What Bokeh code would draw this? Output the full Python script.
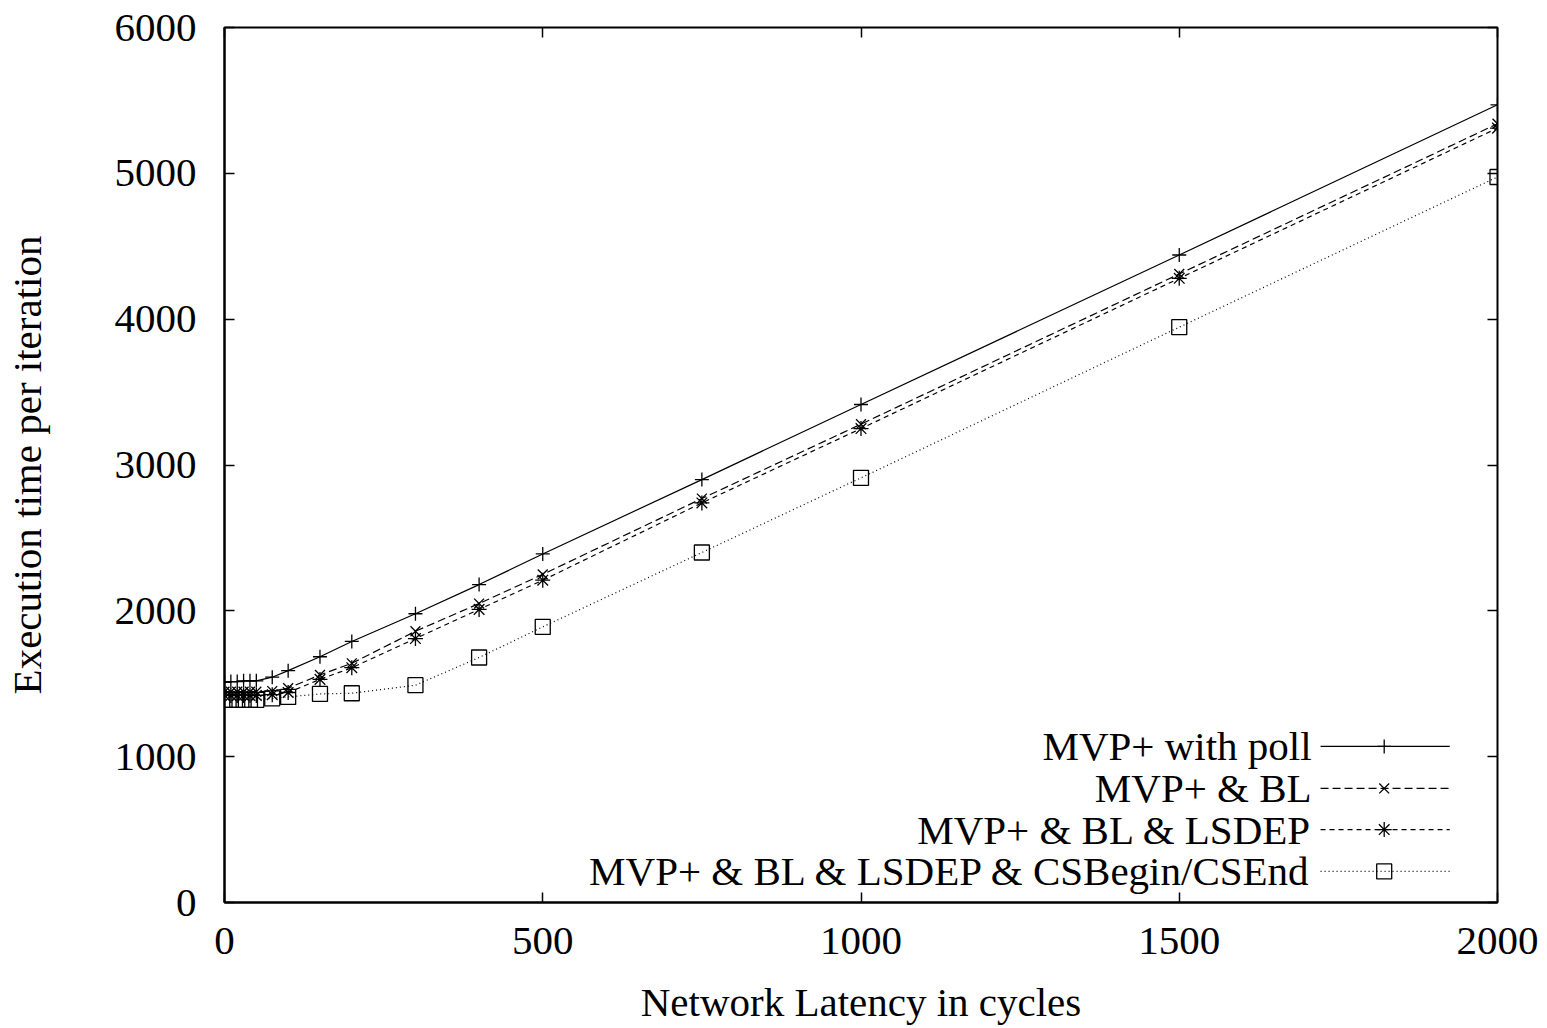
from bokeh.plotting import figure
from bokeh.models import LinearAxis, Range1d, Label, FixedTicker
from bokeh.embed import file_html
from bokeh.resources import INLINE

latency = [0, 10, 20, 30, 40, 50, 75, 100, 150, 200, 300, 400, 500, 750, 1000, 1500, 2000]
poll = [1510, 1515, 1515, 1520, 1520, 1520, 1545, 1590, 1685, 1790, 1980, 2180, 2390, 2900, 3415, 4440, 5470]
bl = [1445, 1445, 1445, 1445, 1445, 1445, 1450, 1470, 1560, 1640, 1860, 2050, 2250, 2770, 3280, 4310, 5340]
lsdep = [1420, 1420, 1420, 1420, 1420, 1420, 1425, 1440, 1530, 1610, 1810, 2010, 2210, 2740, 3250, 4280, 5310]
csb = [1390, 1390, 1390, 1390, 1390, 1390, 1400, 1410, 1430, 1435, 1490, 1680, 1890, 2400, 2912, 3945, 4975]

labels = ["MVP+ with poll", "MVP+ & BL", "MVP+ & BL & LSDEP", "MVP+ & BL & LSDEP & CSBegin/CSEnd"]
x_ticks = [0, 500, 1000, 1500, 2000]
y_ticks = [0, 1000, 2000, 3000, 4000, 5000, 6000]

FONT = "Liberation Serif"
FS = "41px"

p = figure(frame_width=1273, frame_height=875, output_backend="svg", toolbar_location=None,
           x_range=Range1d(0, 2000), y_range=Range1d(0, 6000),
           min_border_left=223, min_border_right=42, min_border_top=27, min_border_bottom=116,
           x_axis_label="Network Latency in cycles", y_axis_label="Execution time per iteration")
p.grid.visible = False
p.outline_line_color = "black"
p.outline_line_width = 2
p.background_fill_color = "white"
p.border_fill_color = "white"

for ax in p.xaxis + p.yaxis:
    ax.major_label_text_font = FONT
    ax.major_label_text_font_size = FS
    ax.axis_label_text_font = FONT
    ax.axis_label_text_font_size = FS
    ax.axis_label_text_font_style = "normal"
    ax.major_tick_in = 10
    ax.major_tick_out = 0
    ax.minor_tick_in = 0
    ax.minor_tick_out = 0
    ax.axis_line_width = 2
    ax.major_tick_line_width = 1.5
    ax.major_label_text_color = "black"
    ax.axis_label_text_color = "black"
p.xaxis.ticker = FixedTicker(ticks=x_ticks)
p.yaxis.ticker = FixedTicker(ticks=y_ticks)
p.xaxis.major_label_standoff = 25
p.xaxis.axis_label_standoff = 22
p.yaxis.major_label_standoff = 28
p.yaxis.axis_label_standoff = 62

top = LinearAxis(ticker=FixedTicker(ticks=x_ticks), major_tick_in=10, major_tick_out=0,
                 minor_tick_in=0, minor_tick_out=0, major_label_text_font_size="0px",
                 axis_line_color=None, major_tick_line_width=1.5, major_label_standoff=0)
right = LinearAxis(ticker=FixedTicker(ticks=y_ticks), major_tick_in=10, major_tick_out=0,
                   minor_tick_in=0, minor_tick_out=0, major_label_text_font_size="0px",
                   axis_line_color=None, major_tick_line_width=1.5, major_label_standoff=0)
p.add_layout(top, "above")
p.add_layout(right, "right")

lw = 1.2
p.line(latency, poll, line_color="black", line_width=lw)
p.scatter(latency, poll, marker="cross", size=14, line_color="black", line_width=1.3)
p.line(latency, bl, line_color="black", line_width=lw, line_dash="8 4")
p.scatter(latency, bl, marker="x", size=14, line_color="black", line_width=1.3)
p.line(latency, lsdep, line_color="black", line_width=lw, line_dash="5 4")
p.scatter(latency, lsdep, marker="asterisk", size=15, line_color="black", line_width=1.3)
p.line(latency, csb, line_color="black", line_width=lw, line_dash="1 3")
p.scatter(latency, csb, marker="square", size=15, line_color="black", fill_color=None, line_width=1.3)

# legend (drawn manually: label right-aligned, sample to the right)
leg_y = [1070, 782, 500, 213]
dashes = ["solid", "8 4", "5 4", "1 3"]
markers = ["cross", "x", "asterisk", "square"]
msizes = [14, 14, 15, 15]
for lab, yy, dsh, mk, ms in zip(labels, leg_y, dashes, markers, msizes):
    p.add_layout(Label(x=1708, y=yy, text=lab, text_align="right", text_baseline="middle",
                       text_font=FONT, text_font_size=FS, text_color="black"))
    p.line([1722, 1925], [yy, yy], line_color="black", line_width=lw, line_dash=dsh)
    p.scatter([1822], [yy], marker=mk, size=ms, line_color="black", fill_color=None, line_width=1.3)

open("out.html", "w").write(file_html(p, INLINE))
